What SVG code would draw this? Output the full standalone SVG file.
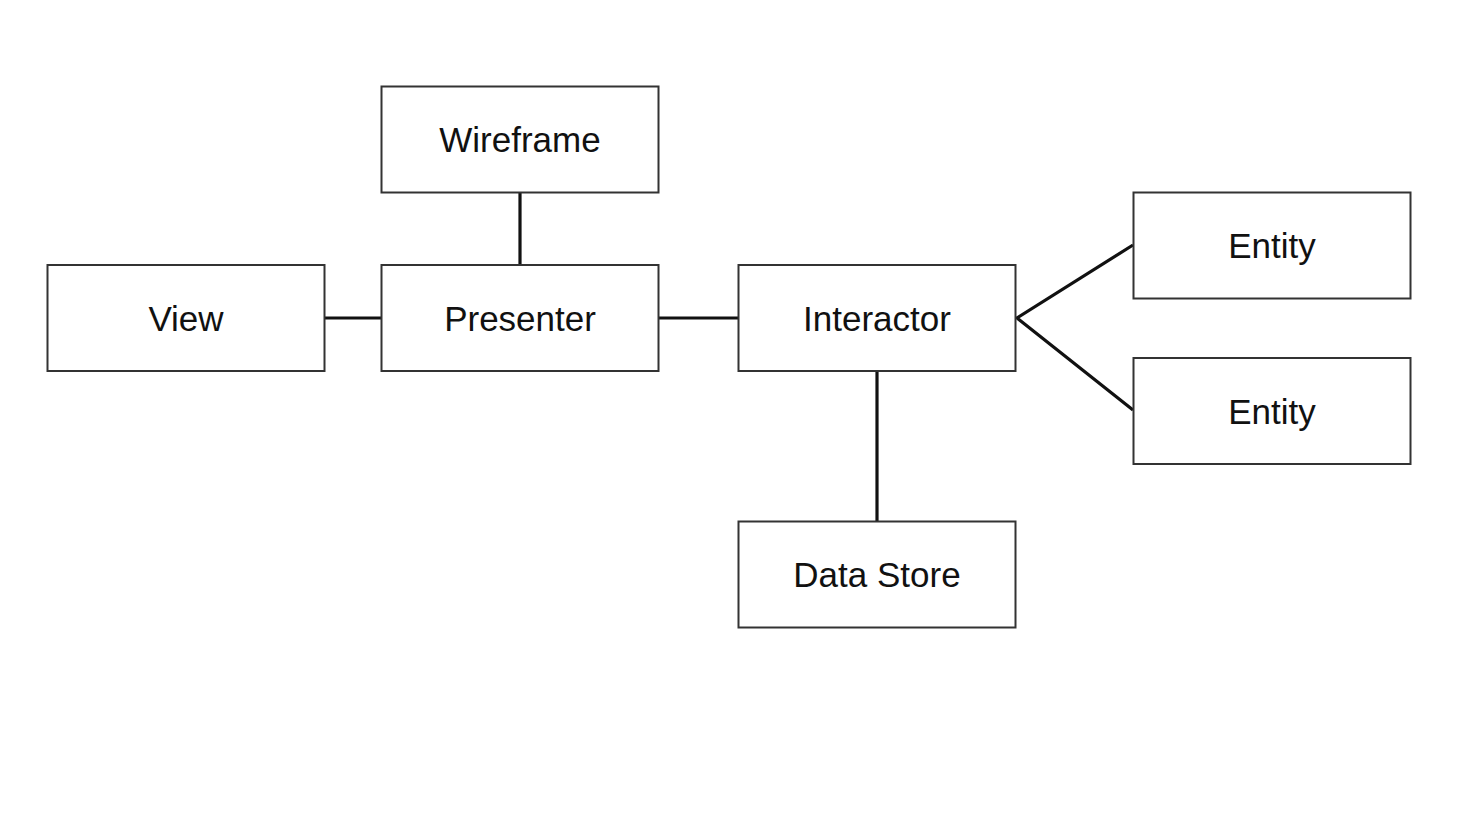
<svg xmlns="http://www.w3.org/2000/svg" width="1472" height="816" viewBox="0 0 1472 816">
<style>
.box{fill:#fff;stroke:#333;stroke-width:2}
.lbl{font-family:"Liberation Sans",Arial,sans-serif;font-size:35px;fill:#111;text-anchor:middle}
.c{stroke:#111;stroke-width:3.2;fill:none}
</style>
<rect width="1472" height="816" fill="#fff"/>
<g id="connectors">
<line class="c" x1="520" y1="192" x2="520" y2="265"/>
<line class="c" x1="325" y1="318" x2="381" y2="318"/>
<line class="c" x1="659" y1="318" x2="738" y2="318"/>
<line class="c" x1="877" y1="371" x2="877" y2="521"/>
<polyline class="c" points="1133,245 1017,318 1133,410"/>
</g>
<g id="wireframe"><rect class="box" x="381.5" y="86.5" width="277" height="106"/><text class="lbl" x="520" y="152">Wireframe</text></g>
<g id="view"><rect class="box" x="47.5" y="265" width="277" height="106"/><text class="lbl" x="186" y="331">View</text></g>
<g id="presenter"><rect class="box" x="381.5" y="265" width="277" height="106"/><text class="lbl" x="520" y="331">Presenter</text></g>
<g id="interactor"><rect class="box" x="738.5" y="265" width="277" height="106"/><text class="lbl" x="877" y="331">Interactor</text></g>
<g id="entity1"><rect class="box" x="1133.5" y="192.5" width="277" height="106"/><text class="lbl" x="1272" y="258">Entity</text></g>
<g id="entity2"><rect class="box" x="1133.5" y="358" width="277" height="106"/><text class="lbl" x="1272" y="424">Entity</text></g>
<g id="datastore"><rect class="box" x="738.5" y="521.5" width="277" height="106"/><text class="lbl" x="877" y="587">Data Store</text></g>
</svg>
